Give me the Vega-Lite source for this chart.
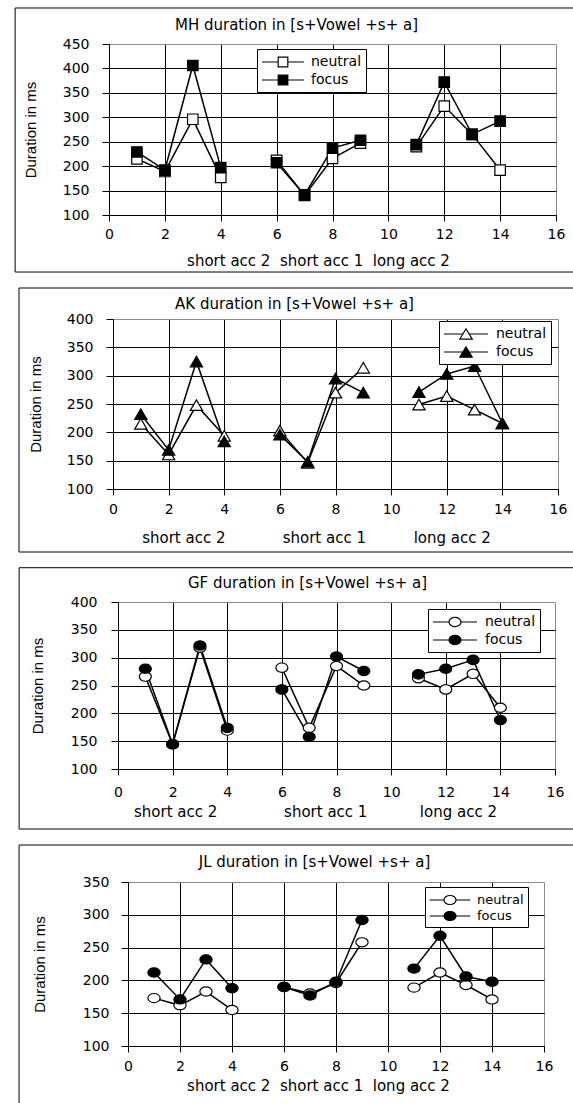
{
  "$schema": "https://vega.github.io/schema/vega-lite/v6.json",
  "background": "white",
  "padding": {"left": 0, "top": 7, "right": 0, "bottom": 0},
  "spacing": 14,
  "resolve": {"scale": {"fill": "independent"}, "legend": {"fill": "independent"}},
  "datasets": {
    "MH": [
      {"x": 1, "series": "neutral", "group": "short acc 2", "value": 215},
      {"x": 2, "series": "neutral", "group": "short acc 2", "value": 189},
      {"x": 3, "series": "neutral", "group": "short acc 2", "value": 296},
      {"x": 4, "series": "neutral", "group": "short acc 2", "value": 177},
      {"x": 6, "series": "neutral", "group": "short acc 1", "value": 212},
      {"x": 7, "series": "neutral", "group": "short acc 1", "value": 140},
      {"x": 8, "series": "neutral", "group": "short acc 1", "value": 216},
      {"x": 9, "series": "neutral", "group": "short acc 1", "value": 247},
      {"x": 11, "series": "neutral", "group": "long acc 2", "value": 240},
      {"x": 12, "series": "neutral", "group": "long acc 2", "value": 323},
      {"x": 13, "series": "neutral", "group": "long acc 2", "value": 265},
      {"x": 14, "series": "neutral", "group": "long acc 2", "value": 192},
      {"x": 1, "series": "focus", "group": "short acc 2", "value": 229},
      {"x": 2, "series": "focus", "group": "short acc 2", "value": 192},
      {"x": 3, "series": "focus", "group": "short acc 2", "value": 406},
      {"x": 4, "series": "focus", "group": "short acc 2", "value": 197},
      {"x": 6, "series": "focus", "group": "short acc 1", "value": 207},
      {"x": 7, "series": "focus", "group": "short acc 1", "value": 141},
      {"x": 8, "series": "focus", "group": "short acc 1", "value": 237},
      {"x": 9, "series": "focus", "group": "short acc 1", "value": 253},
      {"x": 11, "series": "focus", "group": "long acc 2", "value": 244},
      {"x": 12, "series": "focus", "group": "long acc 2", "value": 372},
      {"x": 13, "series": "focus", "group": "long acc 2", "value": 265},
      {"x": 14, "series": "focus", "group": "long acc 2", "value": 292}
    ],
    "AK": [
      {"x": 1, "series": "neutral", "group": "short acc 2", "value": 215},
      {"x": 2, "series": "neutral", "group": "short acc 2", "value": 161},
      {"x": 3, "series": "neutral", "group": "short acc 2", "value": 248},
      {"x": 4, "series": "neutral", "group": "short acc 2", "value": 194},
      {"x": 6, "series": "neutral", "group": "short acc 1", "value": 203},
      {"x": 7, "series": "neutral", "group": "short acc 1", "value": 146},
      {"x": 8, "series": "neutral", "group": "short acc 1", "value": 270},
      {"x": 9, "series": "neutral", "group": "short acc 1", "value": 314},
      {"x": 11, "series": "neutral", "group": "long acc 2", "value": 249},
      {"x": 12, "series": "neutral", "group": "long acc 2", "value": 264},
      {"x": 13, "series": "neutral", "group": "long acc 2", "value": 240},
      {"x": 14, "series": "neutral", "group": "long acc 2", "value": 216},
      {"x": 1, "series": "focus", "group": "short acc 2", "value": 232},
      {"x": 2, "series": "focus", "group": "short acc 2", "value": 169},
      {"x": 3, "series": "focus", "group": "short acc 2", "value": 325},
      {"x": 4, "series": "focus", "group": "short acc 2", "value": 184},
      {"x": 6, "series": "focus", "group": "short acc 1", "value": 196},
      {"x": 7, "series": "focus", "group": "short acc 1", "value": 148},
      {"x": 8, "series": "focus", "group": "short acc 1", "value": 295},
      {"x": 9, "series": "focus", "group": "short acc 1", "value": 270},
      {"x": 11, "series": "focus", "group": "long acc 2", "value": 271},
      {"x": 12, "series": "focus", "group": "long acc 2", "value": 303},
      {"x": 13, "series": "focus", "group": "long acc 2", "value": 317},
      {"x": 14, "series": "focus", "group": "long acc 2", "value": 216}
    ],
    "GF": [
      {"x": 1, "series": "neutral", "group": "short acc 2", "value": 266},
      {"x": 2, "series": "neutral", "group": "short acc 2", "value": 144},
      {"x": 3, "series": "neutral", "group": "short acc 2", "value": 318},
      {"x": 4, "series": "neutral", "group": "short acc 2", "value": 169},
      {"x": 6, "series": "neutral", "group": "short acc 1", "value": 282},
      {"x": 7, "series": "neutral", "group": "short acc 1", "value": 174},
      {"x": 8, "series": "neutral", "group": "short acc 1", "value": 285},
      {"x": 9, "series": "neutral", "group": "short acc 1", "value": 250},
      {"x": 11, "series": "neutral", "group": "long acc 2", "value": 263},
      {"x": 12, "series": "neutral", "group": "long acc 2", "value": 243},
      {"x": 13, "series": "neutral", "group": "long acc 2", "value": 271},
      {"x": 14, "series": "neutral", "group": "long acc 2", "value": 210},
      {"x": 1, "series": "focus", "group": "short acc 2", "value": 280},
      {"x": 2, "series": "focus", "group": "short acc 2", "value": 145},
      {"x": 3, "series": "focus", "group": "short acc 2", "value": 322},
      {"x": 4, "series": "focus", "group": "short acc 2", "value": 174},
      {"x": 6, "series": "focus", "group": "short acc 1", "value": 243},
      {"x": 7, "series": "focus", "group": "short acc 1", "value": 158},
      {"x": 8, "series": "focus", "group": "short acc 1", "value": 302},
      {"x": 9, "series": "focus", "group": "short acc 1", "value": 276},
      {"x": 11, "series": "focus", "group": "long acc 2", "value": 270},
      {"x": 12, "series": "focus", "group": "long acc 2", "value": 280},
      {"x": 13, "series": "focus", "group": "long acc 2", "value": 296},
      {"x": 14, "series": "focus", "group": "long acc 2", "value": 188}
    ],
    "JL": [
      {"x": 1, "series": "neutral", "group": "short acc 2", "value": 173},
      {"x": 2, "series": "neutral", "group": "short acc 2", "value": 162},
      {"x": 3, "series": "neutral", "group": "short acc 2", "value": 183},
      {"x": 4, "series": "neutral", "group": "short acc 2", "value": 155},
      {"x": 6, "series": "neutral", "group": "short acc 1", "value": 190},
      {"x": 7, "series": "neutral", "group": "short acc 1", "value": 180},
      {"x": 8, "series": "neutral", "group": "short acc 1", "value": 196},
      {"x": 9, "series": "neutral", "group": "short acc 1", "value": 258},
      {"x": 11, "series": "neutral", "group": "long acc 2", "value": 189},
      {"x": 12, "series": "neutral", "group": "long acc 2", "value": 212},
      {"x": 13, "series": "neutral", "group": "long acc 2", "value": 193},
      {"x": 14, "series": "neutral", "group": "long acc 2", "value": 171},
      {"x": 1, "series": "focus", "group": "short acc 2", "value": 212},
      {"x": 2, "series": "focus", "group": "short acc 2", "value": 171},
      {"x": 3, "series": "focus", "group": "short acc 2", "value": 232},
      {"x": 4, "series": "focus", "group": "short acc 2", "value": 188},
      {"x": 6, "series": "focus", "group": "short acc 1", "value": 190},
      {"x": 7, "series": "focus", "group": "short acc 1", "value": 177},
      {"x": 8, "series": "focus", "group": "short acc 1", "value": 198},
      {"x": 9, "series": "focus", "group": "short acc 1", "value": 292},
      {"x": 11, "series": "focus", "group": "long acc 2", "value": 218},
      {"x": 12, "series": "focus", "group": "long acc 2", "value": 268},
      {"x": 13, "series": "focus", "group": "long acc 2", "value": 206},
      {"x": 14, "series": "focus", "group": "long acc 2", "value": 198}
    ]
  },
  "vconcat": [
    {
      "spacing": 11,
      "resolve": {"scale": {"fill": "independent"}, "legend": {"fill": "independent"}},
      "hconcat": [
        {"width": 1, "height": 1, "data": {"values": []}, "mark": "point", "view": {"stroke": "transparent", "fill": "transparent"}},
        {
          "width": 447, "height": 171,
          "data": {"name": "MH"},
          "layer": [
            {
              "data": {"values": [{}]},
              "mark": {"type": "rect", "fill": "transparent", "stroke": "black", "strokeWidth": 1, "clip": false},
              "encoding": {
                "x": {"datum": -3.36, "type": "quantitative", "scale": {"domain": [0, 16], "nice": false, "zero": false},
                      "axis": {"orient": "top", "title": "MH  duration in [s+Vowel +s+ a]", "labels": false, "ticks": false, "domain": false, "grid": false, "titleX": 187, "titleY": -20, "titleBaseline": "middle"}},
                "x2": {"datum": 16.79},
                "y": {"datum": 523.7, "type": "quantitative", "scale": {"domain": [100, 450], "nice": false, "zero": false}, "axis": null},
                "y2": {"datum": -16.7}
              }
            },
            {
              "mark": {"type": "line", "color": "black", "strokeWidth": 1.5},
              "encoding": {
                "x": {"field": "x", "type": "quantitative", "scale": {"domain": [0, 16], "nice": false, "zero": false},
                      "axis": {"values": [0, 2, 4, 6, 8, 10, 12, 14, 16], "tickSize": 6, "labelPadding": 6, "grid": true,
                               "gridColor": {"condition": {"test": "datum.value === 16", "value": "#8c8c8c"}, "value": "black"},
                               "title": "short acc 2\u00a0 short acc 1\u00a0 long acc 2", "titleX": 209, "titleY": 45, "titleBaseline": "middle"}},
                "y": {"field": "value", "type": "quantitative", "scale": {"domain": [100, 450], "nice": false, "zero": false},
                      "axis": {"values": [100, 150, 200, 250, 300, 350, 400, 450], "tickSize": 7, "labelPadding": 13, "grid": true,
                               "gridColor": {"condition": {"test": "datum.value === 450", "value": "#8c8c8c"}, "value": "black"},
                               "title": "Duration in ms", "titleFont": "Liberation Sans", "titleFontSize": 15, "titleX": -79, "titleBaseline": "middle"}},
                "detail": [{"field": "series"}, {"field": "group"}]
              }
            },
            {
              "mark": {"type": "point", "shape": "square", "size": 110, "filled": true, "stroke": "black", "strokeWidth": 1.2, "opacity": 1},
              "encoding": {
                "x": {"field": "x", "type": "quantitative", "scale": {"domain": [0, 16], "nice": false, "zero": false}, "axis": null},
                "y": {"field": "value", "type": "quantitative", "scale": {"domain": [100, 450], "nice": false, "zero": false}, "axis": null},
                "fill": {"field": "series", "type": "nominal", "scale": {"domain": ["neutral", "focus"], "range": ["white", "black"]},
                         "legend": {"orient": "none", "legendX": 148, "legendY": 5, "title": null,
                                    "symbolType": "M-2.625,0H-0.6M0.6,0H2.625M-0.6,-0.6H0.6V0.6H-0.6Z", "symbolSize": 256, "symbolOffset": 13,
                                    "symbolStrokeColor": "black", "symbolStrokeWidth": 1.2,
                                    "labelFont": "DejaVu Sans", "labelFontSize": 14, "labelOffset": 19, "padding": 4, "rowPadding": 1,
                                    "strokeColor": "black", "fillColor": "white",
                                    "encode": {"symbols": {"update": {"shape": {"value": "M-2.625,0H-0.6M0.6,0H2.625M-0.6,-0.6H0.6V0.6H-0.6Z"}, "stroke": {"value": "black"}}}}}}
              }
            }
          ],
          "resolve": {"axis": {"x": "independent", "y": "independent"}}
        }
      ]
    },
    {
      "spacing": 15,
      "resolve": {"scale": {"fill": "independent"}, "legend": {"fill": "independent"}},
      "hconcat": [
        {"width": 1, "height": 1, "data": {"values": []}, "mark": "point", "view": {"stroke": "transparent", "fill": "transparent"}},
        {
          "width": 445, "height": 170,
          "data": {"name": "AK"},
          "layer": [
            {
              "data": {"values": [{}]},
              "mark": {"type": "rect", "fill": "transparent", "stroke": "black", "strokeWidth": 1, "clip": false},
              "encoding": {
                "x": {"datum": -3.38, "type": "quantitative", "scale": {"domain": [0, 16], "nice": false, "zero": false},
                      "axis": {"orient": "top", "title": "AK duration in [s+Vowel +s+ a]", "labels": false, "ticks": false, "domain": false, "grid": false, "titleX": 181, "titleY": -16, "titleBaseline": "middle"}},
                "x2": {"datum": 16.61},
                "y": {"datum": 454.7, "type": "quantitative", "scale": {"domain": [100, 400], "nice": false, "zero": false}, "axis": null},
                "y2": {"datum": -11.2}
              }
            },
            {
              "mark": {"type": "line", "color": "black", "strokeWidth": 1.5},
              "encoding": {
                "x": {"field": "x", "type": "quantitative", "scale": {"domain": [0, 16], "nice": false, "zero": false},
                      "axis": {"values": [0, 2, 4, 6, 8, 10, 12, 14, 16], "tickSize": 6, "labelPadding": 7, "grid": true,
                               "gridColor": {"condition": {"test": "datum.value === 16", "value": "#8c8c8c"}, "value": "black"},
                               "title": "short acc 2\u00a0\u00a0\u00a0\u00a0\u00a0\u00a0\u00a0\u00a0\u00a0\u00a0\u00a0\u00a0short acc 1\u00a0\u00a0\u00a0\u00a0\u00a0\u00a0\u00a0\u00a0\u00a0\u00a0long acc 2", "titleX": 203, "titleY": 48, "titleBaseline": "middle"}},
                "y": {"field": "value", "type": "quantitative", "scale": {"domain": [100, 400], "nice": false, "zero": false},
                      "axis": {"values": [100, 150, 200, 250, 300, 350, 400], "tickSize": 7, "labelPadding": 13, "grid": true,
                               "gridColor": {"condition": {"test": "datum.value === 400", "value": "#8c8c8c"}, "value": "black"},
                               "title": "Duration in ms", "titleFont": "Liberation Sans", "titleFontSize": 15, "titleX": -78, "titleBaseline": "middle"}},
                "detail": [{"field": "series"}, {"field": "group"}]
              }
            },
            {
              "mark": {"type": "point", "shape": "triangle-up", "size": 150, "filled": true, "stroke": "black", "strokeWidth": 1.2, "opacity": 1},
              "encoding": {
                "x": {"field": "x", "type": "quantitative", "scale": {"domain": [0, 16], "nice": false, "zero": false}, "axis": null},
                "y": {"field": "value", "type": "quantitative", "scale": {"domain": [100, 400], "nice": false, "zero": false}, "axis": null},
                "fill": {"field": "series", "type": "nominal", "scale": {"domain": ["neutral", "focus"], "range": ["white", "black"]},
                         "legend": {"orient": "none", "legendX": 326, "legendY": 2, "title": null,
                                    "symbolType": "M-2.75,0H-0.4M0.4,0H2.75M-0.78,0.65L0,-0.65L0.78,0.65Z", "symbolSize": 256, "symbolOffset": 14,
                                    "symbolStrokeColor": "black", "symbolStrokeWidth": 1.2,
                                    "labelFont": "DejaVu Sans", "labelFontSize": 14, "labelOffset": 21, "padding": 4, "rowPadding": 1,
                                    "strokeColor": "black", "fillColor": "white",
                                    "encode": {"symbols": {"update": {"shape": {"value": "M-2.75,0H-0.4M0.4,0H2.75M-0.78,0.65L0,-0.65L0.78,0.65Z"}, "stroke": {"value": "black"}}}}}}
              }
            }
          ],
          "resolve": {"axis": {"x": "independent", "y": "independent"}}
        }
      ]
    },
    {
      "spacing": 15,
      "resolve": {"scale": {"fill": "independent"}, "legend": {"fill": "independent"}},
      "hconcat": [
        {"width": 1, "height": 1, "data": {"values": []}, "mark": "point", "view": {"stroke": "transparent", "fill": "transparent"}},
        {
          "width": 437, "height": 167,
          "data": {"name": "GF"},
          "layer": [
            {
              "data": {"values": [{}]},
              "mark": {"type": "rect", "fill": "transparent", "stroke": "black", "strokeWidth": 1, "clip": false},
              "encoding": {
                "x": {"datum": -3.62, "type": "quantitative", "scale": {"domain": [0, 16], "nice": false, "zero": false},
                      "axis": {"orient": "top", "title": "GF duration in [s+Vowel +s+ a]", "labels": false, "ticks": false, "domain": false, "grid": false, "titleX": 189, "titleY": -20, "titleBaseline": "middle"}},
                "x2": {"datum": 16.84},
                "y": {"datum": 461.6, "type": "quantitative", "scale": {"domain": [100, 400], "nice": false, "zero": false}, "axis": null},
                "y2": {"datum": -7.8}
              }
            },
            {
              "mark": {"type": "line", "color": "black", "strokeWidth": 1.5},
              "encoding": {
                "x": {"field": "x", "type": "quantitative", "scale": {"domain": [0, 16], "nice": false, "zero": false},
                      "axis": {"values": [0, 2, 4, 6, 8, 10, 12, 14, 16], "tickSize": 6, "labelPadding": 10, "grid": true,
                               "gridColor": {"condition": {"test": "datum.value === 16", "value": "#8c8c8c"}, "value": "black"},
                               "title": "short acc 2\u00a0\u00a0\u00a0\u00a0\u00a0\u00a0\u00a0\u00a0\u00a0\u00a0\u00a0\u00a0\u00a0\u00a0short acc 1\u00a0\u00a0\u00a0\u00a0\u00a0\u00a0\u00a0\u00a0\u00a0\u00a0\u00a0long acc 2", "titleX": 197, "titleY": 42, "titleBaseline": "middle"}},
                "y": {"field": "value", "type": "quantitative", "scale": {"domain": [100, 400], "nice": false, "zero": false},
                      "axis": {"values": [100, 150, 200, 250, 300, 350, 400], "tickSize": 7, "labelPadding": 14, "grid": true,
                               "gridColor": {"condition": {"test": "datum.value === 400", "value": "#8c8c8c"}, "value": "black"},
                               "title": "Duration in ms", "titleFont": "Liberation Sans", "titleFontSize": 15, "titleX": -81, "titleBaseline": "middle"}},
                "detail": [{"field": "series"}, {"field": "group"}]
              }
            },
            {
              "mark": {"type": "point", "shape": "M-1,0A1,0.78,0,1,1,1,0A1,0.78,0,1,1,-1,0Z", "size": 144, "filled": true, "stroke": "black", "strokeWidth": 1.2, "opacity": 1},
              "encoding": {
                "x": {"field": "x", "type": "quantitative", "scale": {"domain": [0, 16], "nice": false, "zero": false}, "axis": null},
                "y": {"field": "value", "type": "quantitative", "scale": {"domain": [100, 400], "nice": false, "zero": false}, "axis": null},
                "fill": {"field": "series", "type": "nominal", "scale": {"domain": ["neutral", "focus"], "range": ["white", "black"]},
                         "legend": {"orient": "none", "legendX": 310, "legendY": 7, "title": null,
                                    "symbolType": "M-2.75,0H-0.75M0.75,0H2.75M-0.75,0A0.75,0.58,0,1,1,0.75,0A0.75,0.58,0,1,1,-0.75,0Z", "symbolSize": 256, "symbolOffset": 14,
                                    "symbolStrokeColor": "black", "symbolStrokeWidth": 1.2,
                                    "labelFont": "DejaVu Sans", "labelFontSize": 14, "labelOffset": 21, "padding": 4, "rowPadding": 1,
                                    "strokeColor": "black", "fillColor": "white",
                                    "encode": {"symbols": {"update": {"shape": {"value": "M-2.75,0H-0.75M0.75,0H2.75M-0.75,0A0.75,0.58,0,1,1,0.75,0A0.75,0.58,0,1,1,-0.75,0Z"}, "stroke": {"value": "black"}}}}}}
              }
            }
          ],
          "resolve": {"axis": {"x": "independent", "y": "independent"}}
        }
      ]
    },
    {
      "spacing": 15,
      "resolve": {"scale": {"fill": "independent"}, "legend": {"fill": "independent"}},
      "hconcat": [
        {"width": 1, "height": 1, "data": {"values": []}, "mark": "point", "view": {"stroke": "transparent", "fill": "transparent"}},
        {
          "width": 416, "height": 164,
          "data": {"name": "JL"},
          "layer": [
            {
              "data": {"values": [{}]},
              "mark": {"type": "rect", "fill": "transparent", "stroke": "black", "strokeWidth": 1, "clip": false},
              "encoding": {
                "x": {"datum": -4.19, "type": "quantitative", "scale": {"domain": [0, 16], "nice": false, "zero": false},
                      "axis": {"orient": "top", "title": "JL duration  in [s+Vowel +s+ a]", "labels": false, "ticks": false, "domain": false, "grid": false, "titleX": 186, "titleY": -21, "titleBaseline": "middle"}},
                "x2": {"datum": 17.31},
                "y": {"datum": 406.4, "type": "quantitative", "scale": {"domain": [100, 350], "nice": false, "zero": false}, "axis": null},
                "y2": {"datum": 2.4}
              }
            },
            {
              "mark": {"type": "line", "color": "black", "strokeWidth": 1.5},
              "encoding": {
                "x": {"field": "x", "type": "quantitative", "scale": {"domain": [0, 16], "nice": false, "zero": false},
                      "axis": {"values": [0, 2, 4, 6, 8, 10, 12, 14, 16], "tickSize": 6, "labelPadding": 7, "grid": true,
                               "gridColor": {"condition": {"test": "datum.value === 16", "value": "#8c8c8c"}, "value": "black"},
                               "title": "short acc 2\u00a0 short acc 1\u00a0 long acc 2", "titleX": 190, "titleY": 39, "titleBaseline": "middle"}},
                "y": {"field": "value", "type": "quantitative", "scale": {"domain": [100, 350], "nice": false, "zero": false},
                      "axis": {"values": [100, 150, 200, 250, 300, 350], "tickSize": 7, "labelPadding": 12, "grid": true,
                               "gridColor": {"condition": {"test": "datum.value === 350", "value": "#8c8c8c"}, "value": "black"},
                               "title": "Duration in ms", "titleFont": "Liberation Sans", "titleFontSize": 15, "titleX": -89, "titleBaseline": "middle"}},
                "detail": [{"field": "series"}, {"field": "group"}]
              }
            },
            {
              "mark": {"type": "point", "shape": "M-1,0A1,0.75,0,1,1,1,0A1,0.75,0,1,1,-1,0Z", "size": 150, "filled": true, "stroke": "black", "strokeWidth": 1.2, "opacity": 1},
              "encoding": {
                "x": {"field": "x", "type": "quantitative", "scale": {"domain": [0, 16], "nice": false, "zero": false}, "axis": null},
                "y": {"field": "value", "type": "quantitative", "scale": {"domain": [100, 350], "nice": false, "zero": false}, "axis": null},
                "fill": {"field": "series", "type": "nominal", "scale": {"domain": ["neutral", "focus"], "range": ["white", "black"]},
                         "legend": {"orient": "none", "legendX": 297, "legendY": 5, "title": null,
                                    "symbolType": "M-2.55,0H-0.75M0.75,0H2.55M-0.75,0A0.75,0.56,0,1,1,0.75,0A0.75,0.56,0,1,1,-0.75,0Z", "symbolSize": 256, "symbolOffset": 12,
                                    "symbolStrokeColor": "black", "symbolStrokeWidth": 1.2,
                                    "labelFont": "DejaVu Sans", "labelFontSize": 13, "labelOffset": 18, "padding": 4, "rowPadding": 0,
                                    "strokeColor": "black", "fillColor": "white",
                                    "encode": {"symbols": {"update": {"shape": {"value": "M-2.55,0H-0.75M0.75,0H2.55M-0.75,0A0.75,0.56,0,1,1,0.75,0A0.75,0.56,0,1,1,-0.75,0Z"}, "stroke": {"value": "black"}}}}}}
              }
            }
          ],
          "resolve": {"axis": {"x": "independent", "y": "independent"}}
        }
      ]
    }
  ],
  "config": {
    "view": {"stroke": null},
    "axis": {
      "labelFont": "DejaVu Sans", "labelFontSize": 14, "labelColor": "black",
      "titleFont": "DejaVu Sans", "titleFontSize": 15, "titleFontWeight": "normal", "titleColor": "black",
      "domainColor": "black", "tickColor": "black", "gridOpacity": 1, "gridWidth": 1,
      "labelFlush": false, "labelOverlap": false, "labelBound": false
    },
    "legend": {"labelColor": "black"}
  }
}
